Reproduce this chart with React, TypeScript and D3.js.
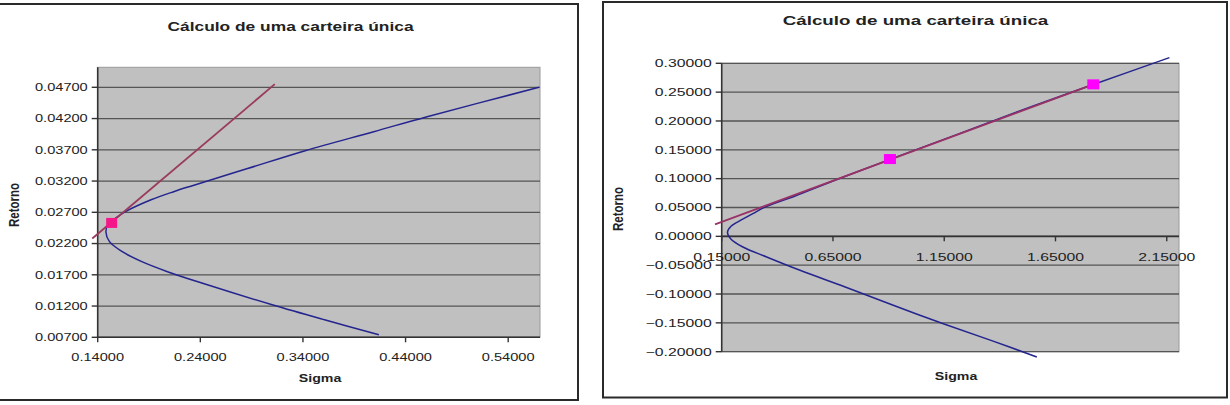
import React from "react";
import * as d3 from "d3";

// ---------- Left chart data (frontier listed from lowest to highest return) ----------
const leftXTicks = [0.14, 0.24, 0.34, 0.44, 0.54];
const leftYTicks = [0.007, 0.012, 0.017, 0.022, 0.027, 0.032, 0.037, 0.042, 0.047];
const leftFrontierSigma = [0.414, 0.361, 0.310, 0.243, 0.208, 0.183, 0.164, 0.1515, 0.148, 0.1505, 0.157, 0.167, 0.192, 0.214, 0.233, 0.286, 0.343, 0.409, 0.461, 0.570];
const leftFrontierReturn = [0.0074, 0.0098, 0.0122, 0.0156, 0.0175, 0.0191, 0.0207, 0.0223, 0.0239, 0.0252, 0.0260, 0.0271, 0.0290, 0.0303, 0.0313, 0.0340, 0.0369, 0.0399, 0.0423, 0.0470];
const leftLineSigma = [0.1347, 0.3126];
const leftLineReturn = [0.0228, 0.0475];
const leftMarkerSigma = [0.1536];
const leftMarkerReturn = [0.0253];

// ---------- Right chart data (frontier listed from lowest to highest return) ----------
const rightXTicks = [0.15, 0.65, 1.15, 1.65, 2.15];
const rightYTicks = [-0.2, -0.15, -0.1, -0.05, 0, 0.05, 0.1, 0.15, 0.2, 0.25, 0.3];
const rightFrontierSigma = [1.566, 1.360, 1.146, 0.921, 0.705, 0.502, 0.352, 0.245, 0.190, 0.176, 0.192, 0.236, 0.290, 0.340, 0.480, 0.650, 0.900, 1.200, 1.550, 1.820, 2.162];
const rightFrontierReturn = [-0.2092, -0.1803, -0.1514, -0.1196, -0.0878, -0.0589, -0.0358, -0.0185, -0.0040, 0.0070, 0.0175, 0.0280, 0.0393, 0.0500, 0.0700, 0.0960, 0.1325, 0.1755, 0.2260, 0.2632, 0.3098];
const rightLineSigma = [0.12, 1.82];
const rightLineReturn = [0.0208, 0.2635];
const rightMarkerSigma = [0.906, 1.820];
const rightMarkerReturn = [0.134, 0.2635];

const TITLE = "Cálculo de uma carteira única";
const FONT = "'Liberation Sans', Arial, sans-serif";
const fmt = d3.format(".5f");

type STProps = {
  x: number; y: number; sx: number; size: number; anchor?: string; bold?: boolean; children: React.ReactNode; rotate?: number; fill?: string;
};
function ST({ x, y, sx, size, anchor = "middle", bold = false, children, rotate = 0, fill = "#222" }: STProps) {
  const tr = `translate(${x},${y}) scale(${sx},1)` + (rotate ? ` rotate(${rotate})` : "");
  return (
    <text transform={tr} textAnchor={anchor} fontFamily={FONT} fontSize={size} fontWeight={bold ? "bold" : "normal"} fill={fill}>
      {children}
    </text>
  );
}

type ChartProps = {
  frame: { x0: number; y0: number; x1: number; y1: number };
  plot: { left: number; right: number; top: number; bottom: number };
  xDomain: [number, number];
  yDomain: [number, number];
  xTicks: number[];
  yTicks: number[];
  xAxisAt: number;
  fs: { sigma: number[]; ret: number[] };
  ln: { sigma: number[]; ret: number[] };
  mk: { sigma: number[]; ret: number[] };
  markerColor: string;
  markerW: number;
  markerH: number;
  lineColor: string;
  title: { x: number; y: number; sx: number; size: number };
  tick: { sx: number; size: number; xLabelY: number };
  sigmaLbl: { x: number; y: number; sx: number; size: number };
  retLbl: { x: number; y: number; sx: number; size: number };
};

function Chart(p: ChartProps) {
  const x = d3.scaleLinear().domain(p.xDomain).range([p.plot.left, p.plot.right]);
  const y = d3.scaleLinear().domain(p.yDomain).range([p.plot.bottom, p.plot.top]);
  const smooth = d3
    .line<[number, number]>()
    .x((d) => x(d[0]))
    .y((d) => y(d[1]))
    .curve(d3.curveCatmullRom.alpha(0.5));
  const straight = d3.line<[number, number]>().x((d) => x(d[0])).y((d) => y(d[1]));
  const fPts = p.fs.sigma.map((s, i) => [s, p.fs.ret[i]] as [number, number]);
  const lPts = p.ln.sigma.map((s, i) => [s, p.ln.ret[i]] as [number, number]);
  const axisY = y(p.xAxisAt);
  const { left, right, top, bottom } = p.plot;
  return (
    <g>
      <rect x={p.frame.x0} y={p.frame.y0} width={p.frame.x1 - p.frame.x0} height={p.frame.y1 - p.frame.y0} fill="#fff" stroke="#2a2a2a" strokeWidth={2} />
      <ST x={p.title.x} y={p.title.y} sx={p.title.sx} size={p.title.size} bold>
        {TITLE}
      </ST>
      <rect x={left} y={top} width={right - left} height={bottom - top} fill="#c0c0c0" stroke="#9a9a9a" strokeWidth={1} />
      {p.yTicks.map((t) => (
        <line key={"g" + t} x1={left} x2={right} y1={y(t)} y2={y(t)} stroke="#555" strokeWidth={1.3} />
      ))}
      <line x1={left} x2={left} y1={top} y2={bottom} stroke="#333" strokeWidth={1.6} />
      {p.yTicks.map((t) => (
        <g key={"yt" + t}>
          <line x1={left - 6} x2={left} y1={y(t)} y2={y(t)} stroke="#333" strokeWidth={1.4} />
          <ST x={left - 10} y={y(t) + 3.8} sx={p.tick.sx} size={p.tick.size} anchor="end">
            {fmt(t)}
          </ST>
        </g>
      ))}
      <line x1={left} x2={right} y1={axisY} y2={axisY} stroke="#333" strokeWidth={1.6} />
      {p.xTicks.map((t) => (
        <g key={"xt" + t}>
          <line x1={x(t)} x2={x(t)} y1={axisY} y2={axisY + 5} stroke="#333" strokeWidth={1.4} />
          <ST x={x(t)} y={p.tick.xLabelY} sx={p.tick.sx} size={p.tick.size}>
            {fmt(t)}
          </ST>
        </g>
      ))}
      <ST x={p.sigmaLbl.x} y={p.sigmaLbl.y} sx={p.sigmaLbl.sx} size={p.sigmaLbl.size} bold>
        Sigma
      </ST>
      <ST x={p.retLbl.x} y={p.retLbl.y} sx={p.retLbl.sx} size={p.retLbl.size} bold rotate={-90}>
        Retorno
      </ST>
      <path d={smooth(fPts) || ""} fill="none" stroke="#24248f" strokeWidth={1.5} />
      <path d={straight(lPts) || ""} fill="none" stroke={p.lineColor} strokeWidth={1.8} />
      {p.mk.sigma.map((s, i) => (
        <rect
          key={"m" + i}
          x={x(s) - p.markerW / 2}
          y={y(p.mk.ret[i]) - p.markerH / 2}
          width={p.markerW}
          height={p.markerH}
          fill={p.markerColor}
        />
      ))}
    </g>
  );
}

export default function App() {
  return (
    <svg
      width={1230}
      height={405}
      style={{ position: "absolute", left: 0, top: 0, background: "#fff" }}
    >
      <rect x={0} y={0} width={1230} height={405} fill="#fff" />
      <Chart
        frame={{ x0: -2, y0: 4, x1: 578, y1: 400 }}
        plot={{ left: 97.7, right: 540, top: 67.3, bottom: 337.3 }}
        xDomain={[0.14, 0.571]}
        yDomain={[0.007, 0.0502]}
        xTicks={leftXTicks}
        yTicks={leftYTicks}
        xAxisAt={0.007}
        fs={{ sigma: leftFrontierSigma, ret: leftFrontierReturn }}
        ln={{ sigma: leftLineSigma, ret: leftLineReturn }}
        mk={{ sigma: leftMarkerSigma, ret: leftMarkerReturn }}
        markerColor="#f5168a"
        markerW={11}
        markerH={10}
        lineColor="#9a3a5c"
        title={{ x: 290.5, y: 30.5, sx: 1.39, size: 12.5 }}
        tick={{ sx: 1.43, size: 10.2, xLabelY: 360.5 }}
        sigmaLbl={{ x: 320, y: 381.5, sx: 1.35, size: 10.5 }}
        retLbl={{ x: 19, y: 205, sx: 1.3, size: 11.5 }}
      />
      <Chart
        frame={{ x0: 603, y0: 2, x1: 1227, y1: 397.5 }}
        plot={{ left: 721.7, right: 1179, top: 63.3, bottom: 351.7 }}
        xDomain={[0.15, 2.205]}
        yDomain={[-0.2, 0.3]}
        xTicks={rightXTicks}
        yTicks={rightYTicks}
        xAxisAt={0}
        fs={{ sigma: rightFrontierSigma, ret: rightFrontierReturn }}
        ln={{ sigma: rightLineSigma, ret: rightLineReturn }}
        mk={{ sigma: rightMarkerSigma, ret: rightMarkerReturn }}
        markerColor="#ff00ff"
        markerW={12}
        markerH={10}
        lineColor="#993366"
        title={{ x: 915.5, y: 25, sx: 1.5, size: 12.5 }}
        tick={{ sx: 1.5, size: 10.5, xLabelY: 261 }}
        sigmaLbl={{ x: 956, y: 380, sx: 1.35, size: 10.5 }}
        retLbl={{ x: 623, y: 209, sx: 1.3, size: 11.5 }}
      />
    </svg>
  );
}
